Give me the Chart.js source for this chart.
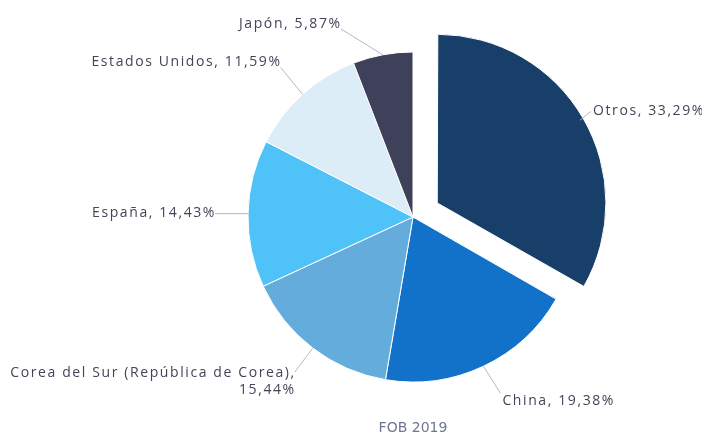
<!DOCTYPE html>
<html>
<head>
<meta charset="utf-8">
<script src="https://cdn.jsdelivr.net/npm/chart.js@4.4.1/dist/chart.umd.min.js"></script>
<style>
    html, body { margin: 0; padding: 0; background: #ffffff; }
    #wrap { width: 702px; height: 437px; }
</style>
</head>
<body>
<div id="wrap"><canvas id="pieChart"></canvas></div>
<script>
// Données (part FOB 2019 par destination, en %)
const categories = ['Otros', 'China', 'Corea del Sur (República de Corea)', 'España', 'Estados Unidos', 'Japón'];
const shares = [33.29, 19.38, 15.44, 14.43, 11.59, 5.87];
const chartTitle = 'FOB 2019';

const sliceColors = ['#183f6a', '#1272c9', '#64acdb', '#4fc3f7', '#dcedf8', '#3f4059'];

// Chart.js v4 divise l'offset par 4 au dessin
const explode = 28;

// Placement des étiquettes : fin du trait de rappel par rapport au bord de la part
const labelLayout = [
    { dx: 11, dy: -9, align: 'left', textDy: 0 },
    { dx: 17, dy: 27, align: 'left', textDy: 8 },
    { dx: -18, dy: 24, align: 'right', textDy: 1, split: true },
    { dx: -33, dy: 0, align: 'right', textDy: -1 },
    { dx: -22, dy: -27, align: 'right', textDy: -5 },
    { dx: -42, dy: -26, align: 'right', textDy: -5 }
];

function fmt(v) {
    return v.toFixed(2).replace('.', ',') + '%';
}

const pieLabels = {
    id: 'pieLabels',
    afterDatasetsDraw(chart) {
        const ctx = chart.ctx;
        const meta = chart.getDatasetMeta(0);
        ctx.save();
        ctx.font = '14px "Open Sans"';
        ctx.letterSpacing = '1.6px';
        ctx.textBaseline = 'middle';
        meta.data.forEach((arc, i) => {
            const p = arc.getProps(['x', 'y', 'startAngle', 'endAngle', 'outerRadius'], true);
            const off = (arc.options.offset || 0) / 4;
            const mid = (p.startAngle + p.endAngle) / 2;
            const ax = p.x + Math.cos(mid) * (p.outerRadius + off);
            const ay = p.y + Math.sin(mid) * (p.outerRadius + off);
            const lay = labelLayout[i];
            const ex = ax + lay.dx;
            const ey = ay + lay.dy;

            ctx.strokeStyle = '#aeb9cb';
            ctx.lineWidth = 1;
            ctx.beginPath();
            ctx.moveTo(ax, ay);
            ctx.lineTo(ex, ey);
            ctx.stroke();

            ctx.fillStyle = '#434457';
            ctx.textAlign = lay.align;
            const tx = lay.align === 'left' ? ex + 2 : ex + 1;
            if (lay.split) {
                ctx.fillText(categories[i] + ',', tx, ey + lay.textDy);
                ctx.fillText(fmt(shares[i]), tx, ey + lay.textDy + 17);
            } else {
                ctx.fillText(categories[i] + ', ' + fmt(shares[i]), tx, ey + lay.textDy);
            }
        });
        ctx.restore();
    }
};

new Chart(document.getElementById('pieChart'), {
    type: 'pie',
    data: {
        labels: categories,
        datasets: [{
            data: shares,
            backgroundColor: sliceColors,
            borderColor: '#ffffff',
            borderWidth: 1,
            offset: [explode * 4, 0, 0, 0, 0, 0],
            radius: 165
        }]
    },
    options: {
        responsive: true,
        maintainAspectRatio: false,
        animation: false,
        layout: {
            padding: { left: 124, right: 0, top: 13.8, bottom: 0 }
        },
        plugins: {
            legend: { display: false },
            tooltip: { enabled: false },
            title: {
                display: true,
                text: chartTitle,
                position: 'bottom',
                color: '#6f7694',
                font: { family: 'DejaVu Sans', size: 14, weight: 'normal' },
                padding: { top: 0, bottom: 0 }
            }
        }
    },
    plugins: [pieLabels]
});
</script>
</body>
</html>
